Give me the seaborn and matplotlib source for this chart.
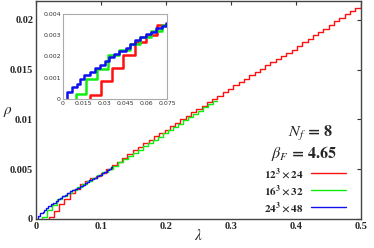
import pandas as pd
import seaborn as sns
import matplotlib.pyplot as plt
from matplotlib.lines import Line2D

# step vertices (lambda, rho), drawn with steps-post
lam_red = [0.0197, 0.0197, 0.0277, 0.0356, 0.0433, 0.0517, 0.0596, 0.0676, 0.0755,
           0.0838, 0.0917, 0.1001, 0.1080, 0.1164, 0.1243, 0.1326, 0.1405, 0.1490,
           0.1569, 0.1651, 0.1733, 0.1812, 0.1896, 0.1977, 0.2058, 0.2139, 0.2222,
           0.2301, 0.2385, 0.2466, 0.2547, 0.2628, 0.2711, 0.2790, 0.2874, 0.2955,
           0.3036, 0.3118, 0.3199, 0.3281, 0.3362, 0.3444, 0.3525, 0.3607, 0.3688,
           0.3770, 0.3851, 0.3933, 0.4014, 0.4096, 0.4177, 0.4259, 0.4340, 0.4422,
           0.4503, 0.4585, 0.4666, 0.4748, 0.4829, 0.4911, 0.4992, 0.5000]
rho_red = [0.0, 0.00020, 0.00083, 0.00146, 0.00205, 0.00266, 0.00302, 0.00349, 0.00380,
           0.00410, 0.00435, 0.00465, 0.00500, 0.00540, 0.00575, 0.00615, 0.00650, 0.00690,
           0.00725, 0.00760, 0.00795, 0.00830, 0.00862, 0.00898, 0.00930, 0.00968, 0.01002,
           0.01035, 0.01072, 0.01105, 0.01138, 0.01172, 0.01208, 0.01240, 0.01275, 0.01310,
           0.01342, 0.01378, 0.01410, 0.01445, 0.01478, 0.01510, 0.01545, 0.01578, 0.01610,
           0.01640, 0.01672, 0.01702, 0.01740, 0.01775, 0.01808, 0.01845, 0.01878, 0.01912,
           0.01950, 0.01985, 0.02020, 0.02055, 0.02088, 0.02122, 0.02158, 0.02158]

lam_green = [0.0092, 0.0092, 0.0169, 0.0245, 0.0325, 0.0404, 0.0480, 0.0558, 0.0635,
             0.0712, 0.0790, 0.0868, 0.0945, 0.1022, 0.1100, 0.1177, 0.1255, 0.1332,
             0.1410, 0.1487, 0.1565, 0.1642, 0.1720, 0.1797, 0.1875, 0.1952, 0.2030,
             0.2107, 0.2185, 0.2262, 0.2340, 0.2417, 0.2495, 0.2572, 0.2650, 0.2727, 0.2780]
rho_green = [0.0, 0.00023, 0.00094, 0.00141, 0.00205, 0.00232, 0.00258, 0.00290, 0.00320,
             0.00350, 0.00378, 0.00408, 0.00440, 0.00470, 0.00502, 0.00535, 0.00568, 0.00600,
             0.00632, 0.00665, 0.00698, 0.00730, 0.00762, 0.00795, 0.00828, 0.00860, 0.00892,
             0.00925, 0.00958, 0.00990, 0.01022, 0.01055, 0.01088, 0.01120, 0.01152, 0.01185, 0.01185]

lam_blue = [0.0032, 0.0032, 0.0068, 0.0101, 0.0120, 0.0151, 0.0192, 0.0229, 0.0265,
            0.0301, 0.0332, 0.0366, 0.0402, 0.0452, 0.0480, 0.0517, 0.0553, 0.0596,
            0.0632, 0.0673, 0.0717, 0.0746, 0.0785, 0.0822, 0.0860, 0.0898, 0.0935,
            0.0972, 0.1010, 0.1048, 0.1085, 0.1122, 0.1160, 0.1175]
rho_blue = [0.0, 0.00033, 0.00056, 0.00072, 0.00094, 0.00114, 0.00128, 0.00146, 0.00161,
            0.00180, 0.00197, 0.00213, 0.00227, 0.00242, 0.00260, 0.00278, 0.00291, 0.00305,
            0.00316, 0.00333, 0.00344, 0.00357, 0.00372, 0.00387, 0.00402, 0.00416, 0.00430,
            0.00446, 0.00462, 0.00476, 0.00491, 0.00506, 0.00520, 0.00520]

lattices = [r'$\mathbf{12^3\times 24}$', r'$\mathbf{16^3\times 32}$', r'$\mathbf{24^3\times 48}$']
colors = ['#ff1010', '#10ee10', '#1010ee']

xticks = [0, 0.1, 0.2, 0.3, 0.4, 0.5]
xticklabels = ['0', '0.1', '0.2', '0.3', '0.4', '0.5']
yticks = [0, 0.005, 0.01, 0.015, 0.02]
yticklabels = ['0', '0.005', '0.01', '0.015', '0.02']
in_xticks = [0, 0.015, 0.03, 0.045, 0.06, 0.075]
in_xticklabels = ['0', '0.015', '0.03', '0.045', '0.06', '0.075']
in_yticks = [0, 0.001, 0.002, 0.003, 0.004]
in_yticklabels = ['0', '0.001', '0.002', '0.003', '0.004']

frames = []
for lab, x, y in zip(lattices, [lam_red, lam_green, lam_blue], [rho_red, rho_green, rho_blue]):
    frames.append(pd.DataFrame({'lam': x, 'rho': y, 'lattice': lab}))
df = pd.concat(frames, ignore_index=True)

sns.set_style('white')
plt.rcParams['mathtext.fontset'] = 'stix'
plt.rcParams['font.family'] = ['Liberation Serif', 'DejaVu Serif']

fig = plt.figure(figsize=(3.74, 2.48), dpi=100)
ax = fig.add_axes([0.0963, 0.117, 0.869, 0.879])
sns.lineplot(data=df, x='lam', y='rho', hue='lattice', palette=colors, estimator=None,
             sort=False, drawstyle='steps-post', lw=1.0, legend=False, ax=ax)
ax.set_xlim(0, 0.5)
ax.set_ylim(0, 0.0219)
ax.set_xticks(xticks)
ax.set_xticklabels(xticklabels, fontweight='bold', fontsize=7.5)
ax.set_yticks(yticks)
ax.set_yticklabels(yticklabels, fontweight='bold', fontsize=7.5)
ax.tick_params(direction='in', length=3, width=0.8, top=True, right=True, pad=2, color='#333333')
for s in ax.spines.values():
    s.set_color('#444444')
    s.set_linewidth(1.0)
ax.set_xlabel(r'$\lambda$', fontsize=11, labelpad=-2)
ax.set_ylabel(r'$\rho$', fontsize=11, rotation=0, va='center', ha='center')
ax.yaxis.set_label_coords(-0.085, 0.49)

ax.text(0.914, 0.39, r'$\boldsymbol{N_f}\,\mathbf{=\,8}$', transform=ax.transAxes,
        ha='right', va='center', fontsize=11.5)
ax.text(0.926, 0.30, r'$\boldsymbol{\beta_F}\,\mathbf{=\,4.65}$', transform=ax.transAxes,
        ha='right', va='center', fontsize=11.5)

handles = [Line2D([], [], color=c, lw=1.0) for c in colors]
ax.legend(handles, lattices, loc='lower right', bbox_to_anchor=(0.954, 0.02), frameon=False,
          markerfirst=False, fontsize=8, handlelength=3.2, labelspacing=0.2,
          borderpad=0, borderaxespad=0, handletextpad=0.6)

# inset
ins = fig.add_axes([63 / 374, 1 - 99 / 248, 104 / 374, 85 / 248])
sns.lineplot(data=df, x='lam', y='rho', hue='lattice', palette=colors, estimator=None,
             sort=False, drawstyle='steps-post', lw=1.8, legend=False, ax=ins)
ins.set_xlim(0, 0.075)
ins.set_ylim(0, 0.004)
ins.set_xticks(in_xticks)
ins.set_xticklabels(in_xticklabels, fontsize=4.5, family='DejaVu Sans', color='#333333')
ins.set_yticks(in_yticks)
ins.set_yticklabels(in_yticklabels, fontsize=4.5, family='DejaVu Sans', color='#333333')
ins.tick_params(direction='in', length=1.5, width=0.5, pad=1.5, color='#999999')
ins.set_xlabel('')
ins.set_ylabel('')
for s in ins.spines.values():
    s.set_color('#aaaaaa')
    s.set_linewidth(0.8)

fig.savefig('out.png', dpi=100)
